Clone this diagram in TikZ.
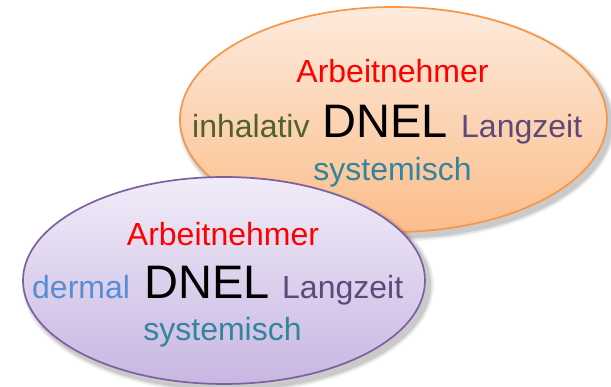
\documentclass[tikz,border=0pt]{standalone}
\usepackage{fontspec}
\setmainfont{Liberation Sans}
\definecolor{orgtop}{HTML}{FDEBDD}
\definecolor{orgbot}{HTML}{FBBD8A}
\definecolor{orgline}{HTML}{F79646}
\definecolor{pubtop}{HTML}{F1ECF8}
\definecolor{pubbot}{HTML}{C8B6E2}
\definecolor{publine}{HTML}{7D60A0}
\definecolor{wred}{HTML}{FF0000}
\definecolor{wolive}{HTML}{4F6228}
\definecolor{wviolet}{HTML}{5F497A}
\definecolor{wteal}{HTML}{31859C}
\definecolor{wblue}{HTML}{558ED5}
\tikzset{
  wsmall/.style={inner sep=0pt, font=\fontsize{32}{38}\selectfont},
  wbig/.style={inner sep=0pt, font=\fontsize{47}{56}\selectfont, text=black},
}
\begin{document}
\begin{tikzpicture}[x=1pt,y=-1pt]
\useasboundingbox (0,0) rectangle (611,387);
% orange ellipse shadow
\foreach \o/\r in {0.05/5,0.07/3.5,0.1/2}{
  \fill[black,opacity=\o] (397,124) ellipse [x radius=213.5+\r, y radius=112.5+\r];
}
\draw[orgline, line width=1.7pt, top color=orgtop, bottom color=orgbot]
  (393.5,119.5) ellipse [x radius=213.5, y radius=112.5];
\node (a1) [wsmall, text=wred, anchor=base] at (392.5,83) {Arbeitnehmer};
\node (i1) [wsmall, text=wolive, anchor=base west] at (192,138) {inhalativ};
\node (d1) [wbig, anchor=base west] at (322,138) {DNEL};
\node (l1) [wsmall, text=wviolet, anchor=base west] at (461,138) {Langzeit};
\node (s1) [wsmall, text=wteal, anchor=base] at (392.5,181) {systemisch};
% purple ellipse shadow
\foreach \o/\r in {0.05/5,0.07/3.5,0.1/2}{
  \fill[black,opacity=\o] (228,285) ellipse [x radius=201+\r, y radius=103.5+\r];
}
\draw[publine, line width=1.7pt, top color=pubtop, bottom color=pubbot]
  (224,280.5) ellipse [x radius=201, y radius=103.5];
\node (a2) [wsmall, text=wred, anchor=base] at (223,246) {Arbeitnehmer};
\node (m2) [wsmall, text=wblue, anchor=base west] at (32,299) {dermal};
\node (d2) [wbig, anchor=base west] at (144,299) {DNEL};
\node (l2) [wsmall, text=wviolet, anchor=base west] at (282,299) {Langzeit};
\node (s2) [wsmall, text=wteal, anchor=base] at (222.5,341) {systemisch};
\end{tikzpicture}
\end{document}
